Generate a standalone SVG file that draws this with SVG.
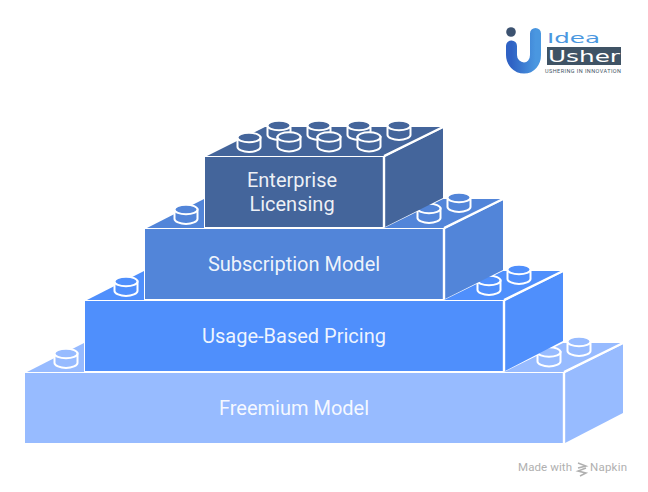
<svg xmlns="http://www.w3.org/2000/svg" width="648" height="492" viewBox="0 0 648 492">
<defs>
<linearGradient id="lg" x1="0" y1="0" x2="1" y2="0"><stop offset="0" stop-color="#2f62c4"/><stop offset="1" stop-color="#4a97e0"/></linearGradient>
<g id="stud"><path d="M-11.5 0V9.5C-11.5 12-6 14.500 0 14.500S11.500 12 11.500 9.500V0Z" class="sb"/><ellipse cx="0" cy="0" rx="11.500" ry="4.800" class="sb"/></g>
</defs>
<style>
text{font-family:Roboto,"Liberation Sans",sans-serif}
.t{font-size:20px;fill:#fff;fill-opacity:.92;text-anchor:middle}
.l{font-family:"DejaVu Sans",sans-serif}
.sb{fill:inherit;stroke:#fff;stroke-width:2}
.e{stroke:#fff;stroke-width:2.400;fill:none}
.b1{fill:#97bbff}.b2{fill:#4f8ffc}.b3{fill:#5285d9}.b4{fill:#44659b}
</style>
<rect width="648" height="492" fill="#fff"/>
<g id="block-freemium" class="b1">
<path d="M27 372L84 343V372Z"/>
<path d="M504 372L563 343H623L564 372Z"/>
<path d="M565 373L623 344V413L565 443Z"/>
<rect x="25" y="373" width="539" height="70"/>
<path class="e" d="M564 372L623 343M564 372V443"/>
<use href="#stud" x="66" y="353.500"/><use href="#stud" x="549" y="352"/><use href="#stud" x="579" y="341.500"/>
<text class="t" x="294" y="415">Freemium Model</text>
</g>
<g id="block-usage" class="b2">
<path d="M87 300L144 271V300Z"/>
<path d="M444 300L503 271H563L504 300Z"/>
<path d="M505 301L563 272V341L505 371Z"/>
<rect x="85" y="301" width="419" height="70"/>
<path class="e" d="M504 300L563 271M504 300V371"/>
<use href="#stud" x="126" y="281.500"/><use href="#stud" x="489" y="280.500"/><use href="#stud" x="519" y="269.500"/>
<text class="t" x="294" y="343">Usage-Based Pricing</text>
</g>
<g id="block-subscription" class="b3">
<path d="M147 228L204 199V228Z"/>
<path d="M384 228L443 199H503L444 228Z"/>
<path d="M445 229L503 200V270L445 299Z"/>
<rect x="145" y="229" width="299" height="70"/>
<path class="e" d="M444 228L503 199M444 228V299"/>
<use href="#stud" x="186" y="209.500"/><use href="#stud" x="429" y="208.500"/><use href="#stud" x="459" y="197.500"/>
<text class="t" x="294" y="271">Subscription Model</text>
</g>
<g id="block-enterprise" class="b4">
<path d="M207 156L265 127H443L384 156Z"/>
<path d="M385 157L443 128V198L385 227Z"/>
<rect x="205" y="157" width="179" height="70"/>
<path class="e" d="M384 156L443 127M384 156V227"/>
<use href="#stud" x="279" y="125.500"/><use href="#stud" x="319" y="125.500"/><use href="#stud" x="359" y="125.500"/><use href="#stud" x="399" y="125.500"/>
<use href="#stud" x="249" y="137.500"/><use href="#stud" x="289" y="137"/><use href="#stud" x="329" y="137"/><use href="#stud" x="369" y="137"/>
<text class="t" x="292" y="187">Enterprise</text>
<text class="t" x="292" y="211">Licensing</text>
</g>
<g id="connectors"/>
<g id="logo">
<circle cx="511" cy="32" r="4.800" fill="#3c5270"/>
<path d="M511.500 46V55C511.500 62 517 68 524 68C531 68 535.500 62 535.500 55V33.500" fill="none" stroke="url(#lg)" stroke-width="11" stroke-linecap="round"/>
<text class="l" x="547" y="43" font-size="14" fill="#4a97e0" textLength="53" lengthAdjust="spacingAndGlyphs">Idea</text>
<rect x="547" y="47" width="74" height="18" fill="#3f5365"/>
<text class="l" x="548" y="62" font-size="16" fill="#fff" textLength="72" lengthAdjust="spacingAndGlyphs">Usher</text>
<text x="545" y="73" font-size="5.500" fill="#3f5365" textLength="76" lengthAdjust="spacing">USHERING IN INNOVATION</text>
</g>
<g id="watermark">
<text x="518" y="471" font-size="11.500" fill="#b0b0b0" textLength="54">Made with</text>
<path d="M578 463L586 466L578 468M586 468L578 471L586 473L580 476" fill="none" stroke="#b0b0b0" stroke-width="1.500"/>
<text x="590" y="471" font-size="11.500" fill="#b0b0b0" textLength="37">Napkin</text>
</g>
</svg>
